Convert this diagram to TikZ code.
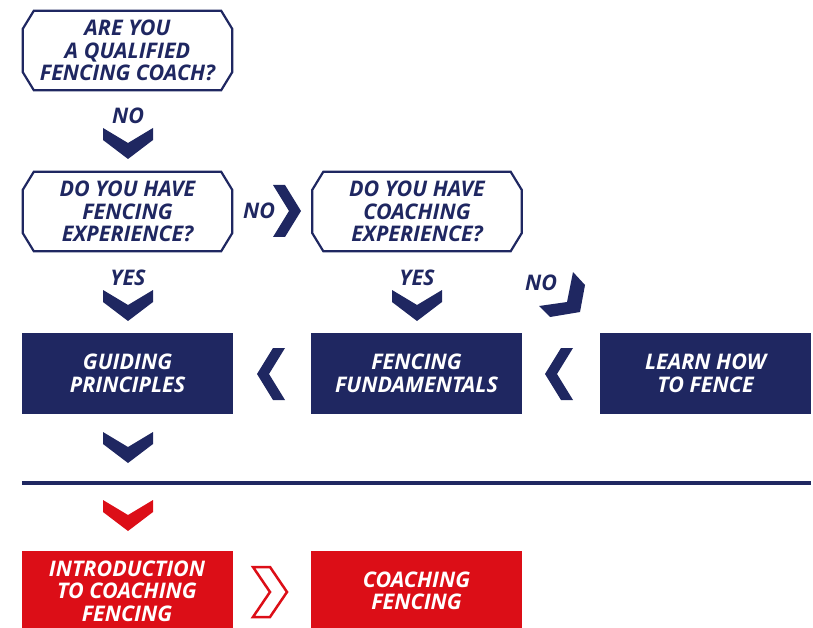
\documentclass[tikz,border=0pt]{standalone}
\usepackage{fontspec}
\setsansfont{Open Sans}
\usetikzlibrary{calc}
\usetikzlibrary{shapes}
\definecolor{navy}{HTML}{1F2761}
\definecolor{fred}{HTML}{DC0E17}
\newcommand{\downchev}[2]{\fill[#2, shift={(#1)}] (-25,-16) -- (0,-1) -- (25,-16) -- (25,-4) -- (0,15) -- (-25,-4) -- cycle;}
\newcommand{\rightchev}[2]{\fill[#2, shift={(#1)}] (-12,-26) -- (0,-26) -- (16,0) -- (0,26) -- (-12,26) -- (4,0) -- cycle;}
\newcommand{\leftchev}[2]{\fill[#2, shift={(#1)}] (12,-26) -- (0,-26) -- (-16,0) -- (0,26) -- (12,26) -- (-4,0) -- cycle;}
\newcommand{\octa}[1]{\draw[navy, line width=2.2pt] ($(#1.north west)+(11,0)$) -- ($(#1.north east)+(-11,0)$) -- ($(#1.north east)+(0,18)$) -- ($(#1.south east)+(0,-18)$) -- ($(#1.south east)+(-11,0)$) -- ($(#1.south west)+(11,0)$) -- ($(#1.south west)+(0,-18)$) -- ($(#1.north west)+(0,18)$) -- cycle;}
\newcommand{\answer}[2]{\node[ans] at (#1) {#2};}
\tikzset{
  txt/.style={font=\sffamily\bfseries\itshape\fontsize{21.5}{22.5}\selectfont, align=center},
  quest/.style={txt, shape=rectangle, text=navy, minimum width=209pt, minimum height=79pt, inner sep=0pt},
  step box/.style={txt, shape=rectangle, fill=#1, text=white, minimum width=211pt, minimum height=81pt, inner sep=0pt},
  ans/.style={txt, text=navy}
}

\begin{document}
\begin{tikzpicture}[x=1pt,y=-1pt]
        \useasboundingbox (0,0) rectangle (813,628);
        % questions
        \node[quest] (q1) at (127.5,50.5) {ARE YOU\\A QUALIFIED\\FENCING COACH?};
        \node[quest] (q2) at (127.5,211.5) {DO YOU HAVE\\FENCING\\EXPERIENCE?};
        \node[quest] (q3) at (417,211.5) {DO YOU HAVE\\COACHING\\EXPERIENCE?};
        \octa{q1}
        \octa{q2}
        \octa{q3}
        % courses
        \node[step box=navy] (b1) at (127.5,373.5) {GUIDING\\PRINCIPLES};
        \node[step box=navy] (b2) at (416.5,373.5) {FENCING\\FUNDAMENTALS};
        \node[step box=navy] (b3) at (705.5,373.5) {LEARN HOW\\TO FENCE};
        \node[step box=fred] (r1) at (127,591) {INTRODUCTION\\TO COACHING\\FENCING};
        \node[step box=fred] (r2) at (416.5,591) {COACHING\\FENCING};
        % answers
        \coordinate (a1) at (128,116);
        \coordinate (a2) at (259,211);
        \coordinate (a3) at (128,278);
        \coordinate (a4) at (417,278);
        \coordinate (a5) at (541,283);
        \answer{a1}{NO}
        \answer{a2}{NO}
        \answer{a3}{YES}
        \answer{a4}{YES}
        \answer{a5}{NO}
        % chevrons
        \coordinate (c1) at (128,144);
        \coordinate (c2) at (285,211);
        \coordinate (c3) at (128,306);
        \coordinate (c4) at (417,306);
        \coordinate (c5) at (273,374);
        \coordinate (c6) at (561,374);
        \coordinate (c7) at (128,448);
        \coordinate (c8) at (128,516);
        \downchev{c1}{navy}
        \rightchev{c2}{navy}
        \downchev{c3}{navy}
        \downchev{c4}{navy}
        \leftchev{c5}{navy}
        \leftchev{c6}{navy}
        \downchev{c7}{navy}
        \downchev{c8}{fred}
        % bent one
        \fill[navy] (573,272) -- (585,285) -- (580,312) -- (550,317) -- (539,306) -- (567,302) -- cycle;
        % divider
        \draw[navy, line width=4pt] (b1.west |- 0,483) -- (b3.east |- 0,483);
        % outlined chevron
        \draw[fred, line width=2.5pt, line join=miter, shift={(270,592)}] (-17,-25) -- (0,-25) -- (17,0) -- (0,25) -- (-17,25) -- (0,0) -- cycle;
\end{tikzpicture}
\end{document}
